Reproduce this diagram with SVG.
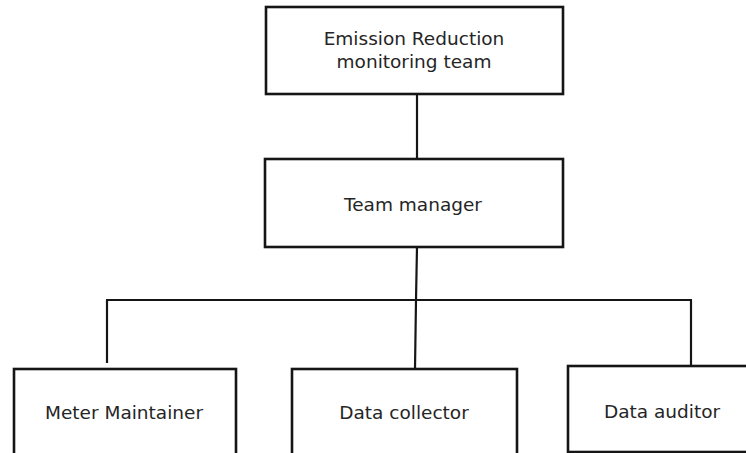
<svg xmlns="http://www.w3.org/2000/svg" width="746" height="453" viewBox="0 0 746 453">
  <style>
    .box { fill: #ffffff; stroke: #151515; stroke-width: 2.6; }
    .conn { fill: none; stroke: #151515; stroke-width: 2.2; }
    .label { font-family: "DejaVu Sans", "Liberation Sans", sans-serif; font-size: 18.5px; fill: #252525; text-anchor: middle; }
  </style>
  <rect width="746" height="453" fill="#ffffff"/>
  <g id="connectors">
    <line class="conn" x1="417" y1="94" x2="417" y2="159"/>
    <polyline class="conn" points="417,247 416,300 415,369"/>
    <line class="conn" x1="106" y1="300" x2="692" y2="300"/>
    <line class="conn" x1="107" y1="300" x2="107" y2="363"/>
    <line class="conn" x1="691" y1="300" x2="691" y2="366"/>
  </g>
  <g id="emission-reduction-team">
    <rect class="box" x="266" y="7" width="297" height="87"/>
    <text class="label" x="414" y="45">Emission Reduction</text>
    <text class="label" x="414" y="68">monitoring team</text>
  </g>
  <g id="team-manager">
    <rect class="box" x="265" y="159" width="298" height="88"/>
    <text class="label" x="413" y="211">Team manager</text>
  </g>
  <g id="meter-maintainer">
    <rect class="box" x="14" y="369" width="222" height="100"/>
    <text class="label" x="124" y="419">Meter Maintainer</text>
  </g>
  <g id="data-collector">
    <rect class="box" x="292" y="369" width="225" height="100"/>
    <text class="label" x="404" y="419">Data collector</text>
  </g>
  <g id="data-auditor">
    <rect class="box" x="568" y="366" width="200" height="86"/>
    <text class="label" x="662" y="418">Data auditor</text>
  </g>
</svg>
